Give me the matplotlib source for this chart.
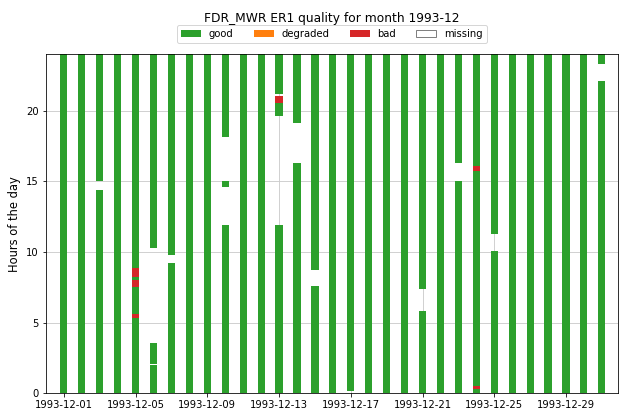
import datetime as dt
import numpy as np
import matplotlib
matplotlib.use("Agg")
import matplotlib.pyplot as plt
import matplotlib.dates as mdates
from matplotlib.patches import Patch

# day of month, start hour, end hour of each "good" stretch
good_day = [1, 2, 3, 3, 4, 5, 6, 6, 6, 7, 7, 8, 9, 10, 10, 10, 11, 12, 13, 13, 13,
            14, 14, 15, 15, 16, 17, 18, 19, 20, 21, 21, 22, 23, 23, 24, 25, 25,
            26, 27, 28, 29, 30, 31, 31]
good_start = [0, 0, 0, 15.0, 0, 0, 0, 2.05, 10.3, 0, 9.8, 0, 0, 0, 14.6, 18.1, 0, 0, 0, 19.6, 21.2,
              0, 19.1, 0, 8.7, 0, 0.2, 0, 0, 0, 0, 7.4, 0, 0, 16.3, 0, 0, 11.3,
              0, 0, 0, 0, 0, 0, 23.3]
good_end = [24, 24, 14.4, 24, 24, 24, 2.0, 3.6, 24, 9.2, 24, 24, 24, 11.9, 15.0, 24, 24, 24, 11.9, 20.5, 24,
            16.3, 24, 7.6, 24, 24, 24, 24, 24, 24, 5.8, 24, 24, 15.0, 24, 24, 10.1, 24,
            24, 24, 24, 24, 24, 22.1, 24]

# "bad" stretches
bad_day = [5, 5, 5, 13, 24, 24]
bad_start = [5.3, 7.5, 8.25, 20.5, 0.35, 15.7]
bad_end = [5.6, 8.0, 8.9, 21.0, 0.5, 16.1]

month = "1993-12"
colors = {"good": "#2ca02c", "degraded": "#ff7f0e", "bad": "#d62728"}


def to_dates(days):
    return [dt.datetime(1993, 12, d) for d in days]


fig, ax = plt.subplots(figsize=(621 / 72, 412 / 72), dpi=72)
fig.subplots_adjust(left=0.074, right=0.995, bottom=0.045, top=0.869)

ax.bar(to_dates(good_day), np.subtract(good_end, good_start), bottom=good_start,
       width=0.4, color=colors["good"], zorder=2)
ax.bar(to_dates(bad_day), np.subtract(bad_end, bad_start), bottom=bad_start,
       width=0.4, color=colors["bad"], zorder=3)

ax.set_ylim(0, 24)
ax.set_yticks([0, 5, 10, 15, 20])
ax.set_xlim(dt.datetime(1993, 11, 30), dt.datetime(1993, 12, 31, 21, 30))
ax.xaxis.set_major_locator(mdates.DayLocator(bymonthday=[1, 5, 9, 13, 17, 21, 25, 29]))
ax.xaxis.set_major_formatter(mdates.DateFormatter("%Y-%m-%d"))
ax.tick_params(labelsize=10)
ax.grid(True, color="#cccccc", linewidth=0.9)
ax.set_axisbelow(True)
ax.set_ylabel("Hours of the day", fontsize=11.5, labelpad=5)

handles = [Patch(facecolor=colors["good"], label="good"),
           Patch(facecolor=colors["degraded"], label="degraded"),
           Patch(facecolor=colors["bad"], label="bad"),
           Patch(facecolor="white", edgecolor="gray", label="missing")]
ax.legend(handles=handles, loc="lower center", bbox_to_anchor=(0.5, 1.033), ncol=4,
          borderaxespad=0, fontsize=10)
ax.set_title("FDR_MWR ER1 quality for month " + month, pad=32, fontsize=12.3)

fig.savefig("out.png", dpi=72)
